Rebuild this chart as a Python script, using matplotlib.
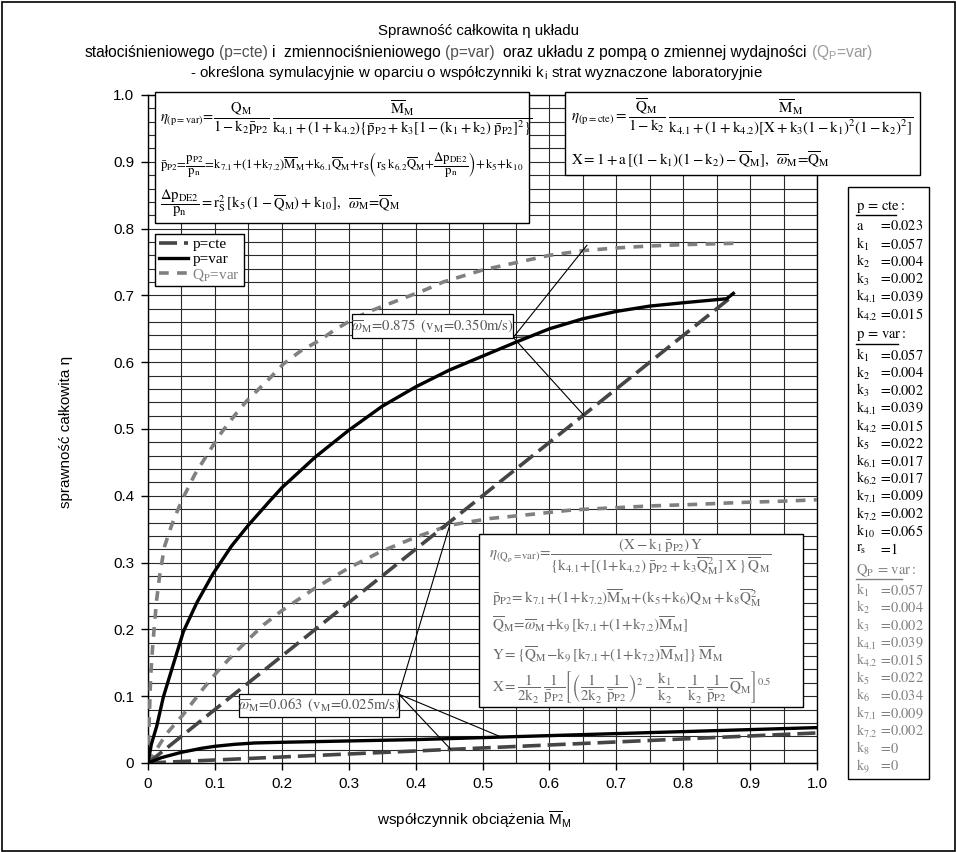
import matplotlib
matplotlib.use('Agg')
import matplotlib.pyplot as plt
from matplotlib.patches import Rectangle
from matplotlib.lines import Line2D
from matplotlib.font_manager import FontProperties
from matplotlib.ticker import MultipleLocator, FuncFormatter

plt.rcParams['lines.scale_dashes'] = False
plt.rcParams['font.family'] = ['Liberation Sans', 'DejaVu Sans']
plt.rcParams['mathtext.fontset'] = 'stix'

# ---------------- data ----------------
# p = cte
pcte_hi_x = [0.0, 0.1, 0.2, 0.3, 0.4, 0.5, 0.6, 0.7, 0.8, 0.875]
pcte_hi_y = [0.0, 0.08, 0.16, 0.24, 0.32, 0.40, 0.48, 0.56, 0.64, 0.70]
pcte_lo_x = [0.0, 0.2, 0.4, 0.6, 0.8, 1.0]
pcte_lo_y = [0.0, 0.009, 0.018, 0.027, 0.036, 0.045]
# p = var
pvar_hi_x = [0, 0.005, 0.013, 0.023, 0.037, 0.053, 0.073, 0.097, 0.125, 0.15, 0.18, 0.2,
             0.25, 0.3, 0.35, 0.4, 0.45, 0.5, 0.55, 0.6, 0.65, 0.7, 0.75, 0.8, 0.865, 0.875]
pvar_hi_y = [0, 0.028, 0.055, 0.099, 0.145, 0.197, 0.24, 0.283, 0.325, 0.356, 0.39, 0.412,
             0.458, 0.498, 0.534, 0.563, 0.588, 0.609, 0.630, 0.650, 0.665, 0.676, 0.684, 0.689, 0.695, 0.703]
pvar_lo_x = [0, 0.02, 0.05, 0.08, 0.1, 0.13, 0.16, 0.2, 0.3, 0.4, 0.5, 0.6, 0.7, 0.8, 0.9, 1.0]
pvar_lo_y = [0, 0.008, 0.016, 0.022, 0.025, 0.028, 0.030, 0.031, 0.033, 0.035, 0.038, 0.041,
             0.044, 0.047, 0.050, 0.053]
# Q_P = var
qp_hi_x = [0, 0.002, 0.004, 0.007, 0.0095, 0.013, 0.018, 0.025, 0.035, 0.045, 0.053, 0.07, 0.095,
           0.11, 0.13, 0.1475, 0.182, 0.202, 0.227, 0.257, 0.277, 0.307, 0.336, 0.367, 0.416, 0.441,
           0.5, 0.55, 0.6, 0.65, 0.7, 0.75, 0.8, 0.875]
qp_hi_y = [0, 0.07, 0.13, 0.175, 0.205, 0.245, 0.285, 0.325, 0.355, 0.38, 0.398, 0.432, 0.472,
           0.495, 0.521, 0.542, 0.576, 0.597, 0.616, 0.633, 0.647, 0.665, 0.678, 0.690, 0.709, 0.72,
           0.738, 0.749, 0.760, 0.767, 0.771, 0.774, 0.776, 0.778]
qp_lo_x = [0, 0.027, 0.053, 0.083, 0.103, 0.127, 0.15, 0.173, 0.2, 0.25, 0.3, 0.347, 0.4, 0.451,
           0.511, 0.571, 0.636, 0.696, 0.755, 0.815, 0.885, 0.95, 1.0]
qp_lo_y = [0, 0.043, 0.073, 0.112, 0.136, 0.162, 0.185, 0.207, 0.228, 0.262, 0.292, 0.316, 0.338,
           0.356, 0.366, 0.372, 0.379, 0.382, 0.385, 0.387, 0.390, 0.392, 0.394]

legend_labels = ['p=cte', 'p=var', r'Q$_\mathrm{P}$=var']

ann_hi_text = r'$\overline{\omega}_{\mathrm{M}}\!=\!0.875\;\;(\mathrm{v_M}\!=\!0.350\mathrm{m/s})$'
ann_hi_anchor = (0.546, 0.637)
ann_hi_targets = [(0.656, 0.775), (0.651, 0.521), (0.568, 0.638)]
ann_lo_text = r'$\overline{\omega}_{\mathrm{M}}\!=\!0.063\;\;(\mathrm{v_M}\!=\!0.025\mathrm{m/s})$'
ann_lo_anchor = (0.375, 0.103)
ann_lo_targets = [(0.451, 0.356), (0.53, 0.038), (0.452, 0.021)]

pcte_names = ['a', 'k_1', 'k_2', 'k_3', 'k_{4.1}', 'k_{4.2}']
pcte_vals = ['0.023', '0.057', '0.004', '0.002', '0.039', '0.015']
pvar_names = ['k_1', 'k_2', 'k_3', 'k_{4.1}', 'k_{4.2}', 'k_5', 'k_{6.1}', 'k_{6.2}',
              'k_{7.1}', 'k_{7.2}', 'k_{10}', 'r_s']
pvar_vals = ['0.057', '0.004', '0.002', '0.039', '0.015', '0.022', '0.017', '0.017',
             '0.009', '0.002', '0.065', '1']
qp_names = ['k_1', 'k_2', 'k_3', 'k_{4.1}', 'k_{4.2}', 'k_5', 'k_6', 'k_{7.1}', 'k_{7.2}', 'k_8', 'k_9']
qp_vals = ['0.057', '0.004', '0.002', '0.039', '0.015', '0.022', '0.034', '0.009', '0.002', '0', '0']

# ---------------- figure ----------------
W, H = 956, 852
fig = plt.figure(figsize=(W / 100, H / 100), dpi=100)


def fx(x):
    return x / W


def fy(y):
    return 1 - y / H


ax = fig.add_axes([fx(148), fy(763), (817 - 148) / W, (763 - 95) / H])
ax.set_xlim(0, 1)
ax.set_ylim(0, 1)
ax.xaxis.set_major_locator(MultipleLocator(0.1))
ax.xaxis.set_minor_locator(MultipleLocator(0.05))
ax.yaxis.set_major_locator(MultipleLocator(0.1))
ax.yaxis.set_minor_locator(MultipleLocator(0.02))
fmt = FuncFormatter(lambda v, p: '0' if abs(v) < 1e-9 else f'{v:.1f}')
ax.xaxis.set_major_formatter(fmt)
ax.yaxis.set_major_formatter(fmt)
ax.grid(which='both', color='#2a2a2a', lw=0.8)
ax.set_axisbelow(True)
ax.tick_params(which='major', direction='out', length=5, width=1, labelsize=11, pad=5)
ax.tick_params(which='minor', length=0)
for s in ax.spines.values():
    s.set_color('black')
    s.set_linewidth(1)

CTE = dict(color='#454545', lw=2.6, dashes=(13, 5), dash_capstyle='butt')
VAR = dict(color='black', lw=2.4)
QP = dict(color='#808080', lw=2.6, dashes=(7, 6), dash_capstyle='butt')

ax.plot(qp_hi_x, qp_hi_y, zorder=3, **QP)
ax.plot(qp_lo_x, qp_lo_y, zorder=3, **QP)
ax.plot(pcte_hi_x, pcte_hi_y, zorder=4, **CTE)
ax.plot(pcte_lo_x, pcte_lo_y, zorder=4, **CTE)
ax.plot(pvar_hi_x, pvar_hi_y, zorder=4, **VAR)
ax.plot(pvar_lo_x, pvar_lo_y, zorder=4, **VAR)

handles = [Line2D([], [], **CTE), Line2D([], [], **VAR), Line2D([], [], **QP)]
leg = ax.legend(handles, legend_labels, loc='upper left', bbox_to_anchor=(0.0105, 0.792),
                frameon=True, fancybox=False, framealpha=1, edgecolor='black',
                prop=FontProperties(family='Liberation Serif', size=11, math_fontfamily='stix'),
                handlelength=1.9, handletextpad=0.3, borderpad=0.25, labelspacing=0.05,
                borderaxespad=0)
leg.get_frame().set_linewidth(1)
leg.get_texts()[2].set_color('#808080')
leg.set_zorder(10)

# annotation boxes (data coords)
for (x0, x1, y0, y1), txt, anc, tg in [((0.305, 0.546, 0.636, 0.672), ann_hi_text, ann_hi_anchor, ann_hi_targets),
                                       ((0.136, 0.375, 0.069, 0.103), ann_lo_text, ann_lo_anchor, ann_lo_targets)]:
    for t in tg:
        ax.plot([anc[0], t[0]], [anc[1], t[1]], color='black', lw=0.8, zorder=5)
    ax.add_patch(Rectangle((x0, y0), x1 - x0, y1 - y0, fc='white', ec='black', lw=0.9, zorder=6))
    ax.text((x0 + x1) / 2, (y0 + y1) / 2, txt, ha='center', va='center', fontsize=10.5,
            color='#555555', math_fontfamily='stix', zorder=7)


def box(x0, y0, x1, y1, lw=1.0):
    fig.add_artist(Rectangle((fx(x0), fy(y1)), fx(x1) - fx(x0), fy(y0) - fy(y1),
                             transform=fig.transFigure, fc='white', ec='black', lw=lw, zorder=5))


def ftext(x, y, s, size=11, color='black', ha='left', va='center', **kw):
    return fig.text(fx(x), fy(y), s, fontsize=size, color=color, ha=ha, va=va,
                    math_fontfamily='stix', zorder=6, **kw)


# top-left formula box (p=var)
box(155, 92, 529, 223)
tl = [
    r'$\eta_{\mathrm{(p=var)}}\!=\!\dfrac{\mathrm{Q_M}}{1-\mathrm{k_2}\bar{\mathrm{p}}_{\mathrm{P2}}}\;\dfrac{\overline{\mathrm{M}}_{\mathrm{M}}}{\mathrm{k_{4.1}}+(1+\mathrm{k_{4.2}})\{\bar{\mathrm{p}}_{\mathrm{P2}}+\mathrm{k_3}[1-(\mathrm{k_1}+\mathrm{k_2})\;\bar{\mathrm{p}}_{\mathrm{P2}}]^2\}}$',
    r'$\bar{\mathrm{p}}_{\mathrm{P2}}\!=\!\dfrac{\mathrm{p_{P2}}}{\mathrm{p_n}}\!=\!\mathrm{k_{7.1}}\!+\!(1\!+\!\mathrm{k_{7.2}})\overline{\mathrm{M}}_{\mathrm{M}}\!+\!\mathrm{k_{6.1}}\overline{\mathrm{Q}}_{\mathrm{M}}\!+\!\mathrm{r_S}\left(\mathrm{r_S\,k_{6.2}}\overline{\mathrm{Q}}_{\mathrm{M}}\!+\!\dfrac{\Delta\mathrm{p_{DE2}}}{\mathrm{p_n}}\right)\!+\!\mathrm{k_5}\!+\!\mathrm{k_{10}}$',
    r'$\dfrac{\Delta\mathrm{p_{DE2}}}{\mathrm{p_n}}=\mathrm{r_S^2}\,[\mathrm{k_5}\,(1-\overline{\mathrm{Q}}_{\mathrm{M}})+\mathrm{k_{10}}],\;\;\overline{\omega}_{\mathrm{M}}\!=\!\overline{\mathrm{Q}}_{\mathrm{M}}$',
]
for s, y, sz in zip(tl, [118, 165, 203], [10.5, 9.2, 10.5]):
    ftext(160, y, s, size=sz)

# top-right formula box (p=cte)
box(565, 92, 920, 175)
tr = [
    r'$\eta_{\mathrm{(p=cte)}}=\dfrac{\overline{\mathrm{Q}}_{\mathrm{M}}}{1-\mathrm{k_2}}\;\dfrac{\overline{\mathrm{M}}_{\mathrm{M}}}{\mathrm{k_{4.1}}+(1+\mathrm{k_{4.2}})[\mathrm{X}+\mathrm{k_3}(1-\mathrm{k_1})^2(1-\mathrm{k_2})^2]}$',
    r'$\mathrm{X}=1+\mathrm{a}\,[(1-\mathrm{k_1})(1-\mathrm{k_2})-\overline{\mathrm{Q}}_{\mathrm{M}}],\;\;\overline{\omega}_{\mathrm{M}}\!=\!\overline{\mathrm{Q}}_{\mathrm{M}}$',
]
for s, y in zip(tr, [117, 160]):
    ftext(571, y, s, size=10.8)

# bottom-right formula box (Q_P=var)
box(479, 534, 803, 707)
GR = '#6a6a6a'
br = [
    r'$\eta_{(\mathrm{Q_p=var})}\!=\!\dfrac{(\mathrm{X}-\mathrm{k_1}\,\bar{\mathrm{p}}_{\mathrm{P2}})\,\mathrm{Y}}{\{\mathrm{k_{4.1}}\!+\![(1\!+\!\mathrm{k_{4.2}})\;\bar{\mathrm{p}}_{\mathrm{P2}}+\mathrm{k_3}\overline{\mathrm{Q}}_{\mathrm{M}}^2]\;\mathrm{X}\;\}\,\overline{\mathrm{Q}}_{\mathrm{M}}}$',
    r'$\bar{\mathrm{p}}_{\mathrm{P2}}\!=\mathrm{k_{7.1}}\!+\!(1\!+\!\mathrm{k_{7.2}})\overline{\mathrm{M}}_{\mathrm{M}}\!+\!(\mathrm{k_5}\!+\!\mathrm{k_6})\mathrm{Q_M}+\mathrm{k_8}\overline{\mathrm{Q}}_{\mathrm{M}}^2$',
    r'$\overline{\mathrm{Q}}_{\mathrm{M}}\!=\!\overline{\omega}_{\mathrm{M}}\!+\!\mathrm{k_9}\,[\mathrm{k_{7.1}}\!+\!(1\!+\!\mathrm{k_{7.2}})\overline{\mathrm{M}}_{\mathrm{M}}]$',
    r'$\mathrm{Y}=\{\overline{\mathrm{Q}}_{\mathrm{M}}\!-\!\mathrm{k_9}\,[\mathrm{k_{7.1}}\!+\!(1\!+\!\mathrm{k_{7.2}})\overline{\mathrm{M}}_{\mathrm{M}}]\}\;\overline{\mathrm{M}}_{\mathrm{M}}$',
    r'$\mathrm{X}=\dfrac{1}{2\mathrm{k_2}}\;\dfrac{1}{\bar{\mathrm{p}}_{\mathrm{P2}}}\left[\left(\dfrac{1}{2\mathrm{k_2}}\;\dfrac{1}{\bar{\mathrm{p}}_{\mathrm{P2}}}\right)^2-\dfrac{\mathrm{k_1}}{\mathrm{k_2}}-\dfrac{1}{\mathrm{k_2}}\;\dfrac{1}{\bar{\mathrm{p}}_{\mathrm{P2}}}\,\overline{\mathrm{Q}}_{\mathrm{M}}\right]^{0.5}$',
]
for s, y, x in zip(br, [557, 598, 625, 655, 687], [489, 492, 492, 492, 492]):
    ftext(x, y, s, size=10.8, color=GR)

# parameter box
box(848, 187, 929, 779)
y = 207
step = 17.6
sections = [('p=cte:', pcte_names, pcte_vals, 'black', 40),
            ('p=var:', pvar_names, pvar_vals, 'black', 42),
            ('Q_P=var:', qp_names, qp_vals, '#808080', 46)]
for head, names, vals, col, ul in sections:
    ftext(856, y, r'$\mathrm{' + head.replace('=', '\\,=\\,') + '}$', size=10.5, color=col)
    fig.add_artist(Line2D([fx(856), fx(856 + ul)], [fy(y + 8), fy(y + 8)], color=col, lw=1,
                          transform=fig.transFigure, zorder=6))
    y += 19.5
    for n, v in zip(names, vals):
        ftext(856, y, r'$\mathrm{' + n + '}$', size=10.3, color=col)
        ftext(878, y, r'$=\!\mathrm{' + v + '}$', size=10.3, color=col)
        y += step
    y += 4


# ---------------- titles & labels ----------------
def colored_line(segments, xc, yb, size):
    r = fig.canvas.get_renderer()

    def w(s):
        t = fig.text(0, 0, s, fontsize=size)
        bb = t.get_window_extent(r).width
        t.remove()
        return bb
    sp = w('a a') - w('aa')
    parts = []
    total = 0
    for s, c in segments:
        st = s.strip()
        lead = (len(s) - len(s.lstrip())) * sp
        trail = (len(s) - len(s.rstrip())) * sp
        ww = w(st)
        parts.append((st, c, lead, ww, trail))
        total += lead + ww + trail
    x = xc - total / 2
    for st, c, l, ww, t in parts:
        x += l
        fig.text(fx(x), fy(yb), st, color=c, fontsize=size, va='baseline', ha='left')
        x += ww + t


fig.text(fx(478), fy(35), 'Sprawność całkowita η układu', fontsize=10.8, ha='center', va='baseline')
colored_line([('stałociśnieniowego ', 'black'), ('(p=cte)', '#505050'),
              (' i  zmiennociśnieniowego ', 'black'), ('(p=var)', '#505050'),
              ('  oraz układu z pompą o zmiennej wydajności ', 'black'),
              (r'(Q$_\mathregular{P}$=var)', '#9a9a9a')], 479, 57, 11.2)
fig.text(fx(476), fy(77), r'- określona symulacyjnie w oparciu o współczynniki k$_\mathregular{\,i}$ strat wyznaczone laboratoryjnie',
         fontsize=10.8, ha='center', va='baseline')

fig.text(fx(66), fy(432), 'sprawność całkowita η', rotation=90, fontsize=11, ha='center', va='center')
fig.text(fx(474), fy(820), r'współczynnik obciążenia $\overline{\mathregular{M}}\mathregular{_M}$',
         fontsize=11, ha='center', va='center')

fig.add_artist(Rectangle((fx(1.5), fy(850.5)), fx(954.5) - fx(1.5), fy(1.5) - fy(850.5), fill=False,
                         ec='black', lw=1.2, transform=fig.transFigure, zorder=20))

fig.savefig('out.png', dpi=100)
